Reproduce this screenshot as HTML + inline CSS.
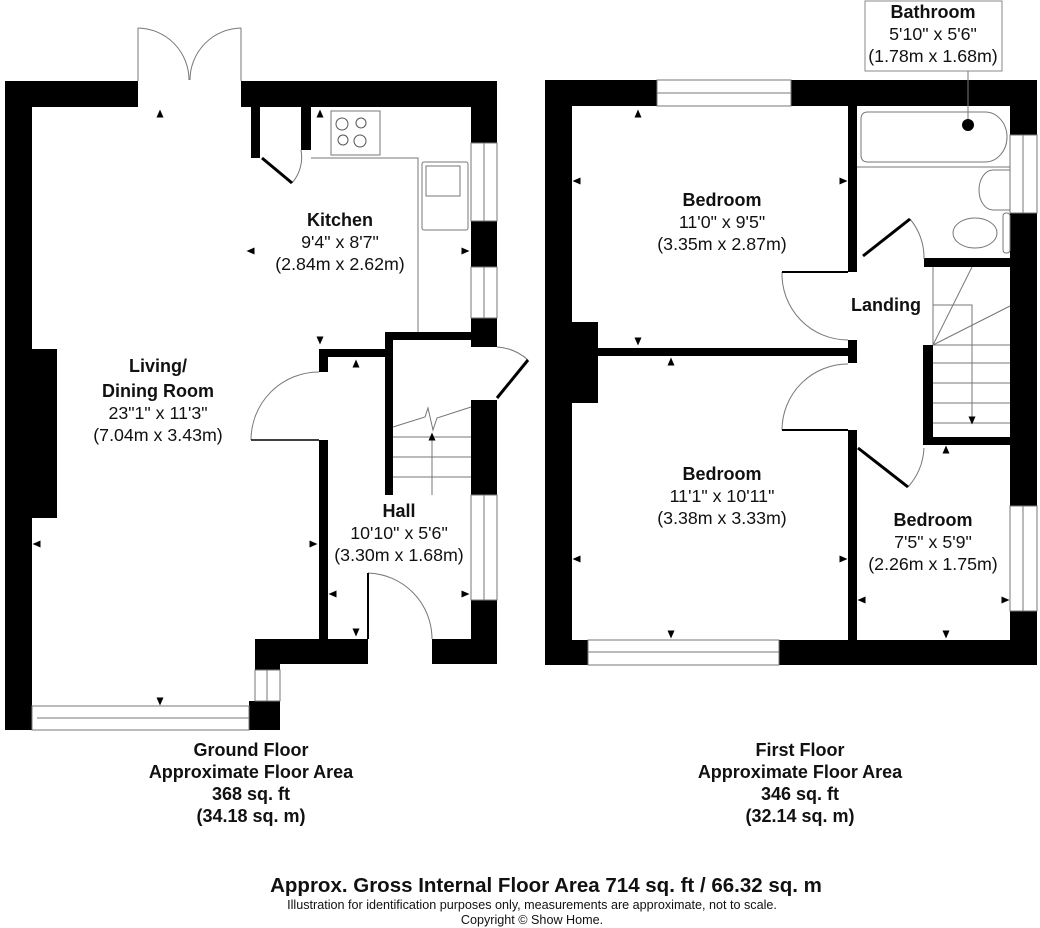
<!DOCTYPE html>
<html><head><meta charset="utf-8"><style>
html,body{margin:0;padding:0;background:#fff;}
svg{display:block;}
text{font-family:"Liberation Sans",Arial,sans-serif;fill:#111;text-anchor:middle;}
.b{font-weight:bold;font-size:18px;}
.r{font-size:17.8px;}
</style></head><body>
<svg width="1040" height="928" viewBox="0 0 1040 928" xmlns="http://www.w3.org/2000/svg">
<defs>
<path id="tu" d="M-3.5,3.5 L3.5,3.5 L0,-4.5 Z"/>
</defs>
<g fill="#000">
<rect x="5" y="81" width="133" height="26"/>
<rect x="241" y="81" width="256" height="26"/>
<rect x="5" y="81" width="27" height="649"/>
<rect x="32" y="349" width="25" height="169"/>
<rect x="471" y="81" width="26" height="62"/>
<rect x="471" y="221" width="26" height="46"/>
<rect x="471" y="318" width="26" height="29"/>
<rect x="471" y="400" width="26" height="95"/>
<rect x="471" y="600" width="26" height="64"/>
<rect x="432" y="639" width="65" height="25"/>
<rect x="255" y="639" width="113" height="25"/>
<rect x="255" y="664" width="25" height="6"/>
<rect x="249" y="701" width="31" height="29"/>
<rect x="319" y="440" width="9" height="199"/>
<rect x="319" y="349" width="9" height="23"/>
<rect x="319" y="349" width="66" height="8"/>
<rect x="385" y="332" width="8" height="163"/>
<rect x="385" y="332" width="86" height="8"/>
<rect x="251" y="107" width="9" height="51"/>
<rect x="301" y="107" width="10" height="43"/>
<rect x="545" y="80" width="112" height="26"/>
<rect x="791" y="80" width="246" height="26"/>
<rect x="545" y="80" width="27" height="585"/>
<rect x="572" y="322" width="26" height="81"/>
<rect x="1010" y="80" width="27" height="55"/>
<rect x="1010" y="213" width="27" height="293"/>
<rect x="1010" y="611" width="27" height="54"/>
<rect x="545" y="640" width="43" height="25"/>
<rect x="779" y="640" width="258" height="25"/>
<rect x="598" y="348" width="250" height="8"/>
<rect x="848" y="340" width="9" height="23"/>
<rect x="848" y="106" width="9" height="166"/>
<rect x="848" y="430" width="9" height="210"/>
<rect x="924" y="258" width="86" height="9"/>
<rect x="923" y="345" width="10" height="100"/>
<rect x="923" y="437" width="87" height="8"/>
</g>
<g fill="none" stroke="#777" stroke-width="1">
<rect x="471" y="143" width="26" height="78"/><line x1="484" y1="143" x2="484" y2="221"/>
<rect x="471" y="267" width="26" height="51"/><line x1="484" y1="267" x2="484" y2="318"/>
<rect x="471" y="495" width="26" height="105"/><line x1="484" y1="495" x2="484" y2="600"/>
<rect x="255" y="670" width="25" height="31"/><line x1="267" y1="670" x2="267" y2="701"/>
<rect x="32" y="706" width="217" height="24"/><line x1="37" y1="718" x2="249" y2="718"/>
<rect x="657" y="80" width="134" height="26"/><line x1="657" y1="93" x2="791" y2="93"/>
<rect x="1010" y="135" width="27" height="78"/><line x1="1023" y1="135" x2="1023" y2="213"/>
<rect x="1010" y="506" width="27" height="105"/><line x1="1023" y1="506" x2="1023" y2="611"/>
<rect x="588" y="640" width="191" height="25"/><line x1="588" y1="652" x2="779" y2="652"/>
<polyline points="311,158 418,158 418,332"/>
<rect x="331" y="111" width="49" height="44"/>
<rect x="422" y="162" width="46" height="68" rx="2"/>
<rect x="426" y="166" width="34" height="30"/>
<line x1="393" y1="437" x2="471" y2="437"/>
<line x1="393" y1="457" x2="471" y2="457"/>
<line x1="393" y1="477" x2="471" y2="477"/>
<polyline points="393,427 425,417 428,408 433,430 437,418 471,407"/>
<line x1="432" y1="437" x2="432" y2="495"/>
<line x1="933" y1="345" x2="1010" y2="345"/>
<line x1="933" y1="363" x2="1010" y2="363"/>
<line x1="933" y1="383" x2="1010" y2="383"/>
<line x1="933" y1="403" x2="1010" y2="403"/>
<line x1="933" y1="423" x2="1010" y2="423"/>
<line x1="933" y1="267" x2="933" y2="345"/>
<line x1="933" y1="345" x2="972" y2="267"/>
<line x1="933" y1="345" x2="1010" y2="306"/>
<polyline points="933,305 972,305 972,418"/>
<path d="M868,112 H985 A22,25 0 0 1 985,162 H868 Q861,162 861,155 V119 Q861,112 868,112 Z"/>
<line x1="857" y1="167" x2="1010" y2="167"/>
<path d="M1010,170 H993 A14,20 0 0 0 993,210 H1010"/>
<ellipse cx="975" cy="233" rx="22" ry="15"/>
<rect x="1003" y="213" width="7" height="40" rx="3"/>
<rect x="865" y="1" width="137" height="70" stroke="#888"/>
<line x1="968" y1="71" x2="968" y2="120"/>
<path d="M138,28 A52,52 0 0 1 189,80"/>
<path d="M241,28 A52,52 0 0 0 190,80"/>
<path d="M251,440 A68,68 0 0 1 319,372"/>
<path d="M368,573 A66,66 0 0 1 432,639"/>
<path d="M497,347 A51,51 0 0 1 528,360"/>
<path d="M292,183 A39,39 0 0 0 301,150"/>
<path d="M782,272 A66,66 0 0 0 848,340"/>
<path d="M782,430 A66,66 0 0 1 848,364"/>
<path d="M910,219 A60,60 0 0 1 924,259"/>
<path d="M908,487 A63,63 0 0 0 924,448"/>
</g>
<g stroke="#777" fill="none" stroke-width="1">
<line x1="138" y1="28" x2="138" y2="81"/>
<line x1="241" y1="28" x2="241" y2="81"/>
<line x1="251" y1="440" x2="319" y2="440" stroke="#000" stroke-width="1.5"/>
<line x1="368" y1="573" x2="368" y2="639" stroke="#000" stroke-width="2"/>
<line x1="782" y1="272" x2="848" y2="272" stroke="#000" stroke-width="2"/>
<line x1="782" y1="430" x2="848" y2="430" stroke="#000" stroke-width="2"/>
</g>
<g stroke="#000" stroke-width="3">
<line x1="262" y1="158" x2="292" y2="183"/>
<line x1="497" y1="398" x2="528" y2="360"/>
<line x1="863" y1="256" x2="910" y2="219"/>
<line x1="858" y1="448" x2="908" y2="487"/>
</g>
<g fill="#000">
<circle cx="968" cy="125" r="6"/>
<circle cx="342" cy="124" r="6" fill="none" stroke="#555"/><circle cx="361" cy="123" r="5" fill="none" stroke="#555"/>
<circle cx="343" cy="140" r="5" fill="none" stroke="#555"/><circle cx="360" cy="141" r="6" fill="none" stroke="#555"/>
<use href="#tu" x="160" y="114"/><use href="#tu" x="320" y="114"/>
<use href="#tu" x="356" y="364"/><use href="#tu" x="638" y="114"/>
<use href="#tu" x="671" y="362"/><use href="#tu" x="946" y="450"/>
<use href="#tu" transform="translate(160,701) rotate(180)"/>
<use href="#tu" transform="translate(320,340) rotate(180)"/>
<use href="#tu" transform="translate(356,632) rotate(180)"/>
<use href="#tu" transform="translate(638,341) rotate(180)"/>
<use href="#tu" transform="translate(671,634) rotate(180)"/>
<use href="#tu" transform="translate(946,634) rotate(180)"/>
<use href="#tu" transform="translate(972,420) rotate(180)"/>
<use href="#tu" transform="translate(432,437)"/>
<use href="#tu" transform="translate(37,544) rotate(-90)"/>
<use href="#tu" transform="translate(313,544) rotate(90)"/>
<use href="#tu" transform="translate(251,251) rotate(-90)"/>
<use href="#tu" transform="translate(465,251) rotate(90)"/>
<use href="#tu" transform="translate(333,594) rotate(-90)"/>
<use href="#tu" transform="translate(465,594) rotate(90)"/>
<use href="#tu" transform="translate(577,181) rotate(-90)"/>
<use href="#tu" transform="translate(843,181) rotate(90)"/>
<use href="#tu" transform="translate(577,559) rotate(-90)"/>
<use href="#tu" transform="translate(843,559) rotate(90)"/>
<use href="#tu" transform="translate(862,600) rotate(-90)"/>
<use href="#tu" transform="translate(1005,600) rotate(90)"/>
</g>
<text class="b" x="340" y="226">Kitchen</text>
<text class="r" x="340" y="248">9'4" x 8'7"</text>
<text class="r" x="340" y="270">(2.84m x 2.62m)</text>
<text class="b" x="158" y="372">Living/</text>
<text class="b" x="158" y="397">Dining Room</text>
<text class="r" x="158" y="419">23"1" x 11'3"</text>
<text class="r" x="158" y="441">(7.04m x 3.43m)</text>
<text class="b" x="399" y="517">Hall</text>
<text class="r" x="399" y="539">10'10" x 5'6"</text>
<text class="r" x="399" y="561">(3.30m x 1.68m)</text>
<text class="b" x="722" y="206">Bedroom</text>
<text class="r" x="722" y="228">11'0" x 9'5"</text>
<text class="r" x="722" y="250">(3.35m x 2.87m)</text>
<text class="b" x="886" y="311">Landing</text>
<text class="b" x="722" y="480">Bedroom</text>
<text class="r" x="722" y="502">11'1" x 10'11"</text>
<text class="r" x="722" y="524">(3.38m x 3.33m)</text>
<text class="b" x="933" y="526">Bedroom</text>
<text class="r" x="933" y="548">7'5" x 5'9"</text>
<text class="r" x="933" y="570">(2.26m x 1.75m)</text>
<text class="b" x="933" y="18">Bathroom</text>
<text class="r" x="933" y="40">5'10" x 5'6"</text>
<text class="r" x="933" y="62">(1.78m x 1.68m)</text>
<text class="b" x="251" y="756">Ground Floor</text>
<text class="b" x="251" y="778">Approximate Floor Area</text>
<text class="b" x="251" y="800">368 sq. ft</text>
<text class="b" x="251" y="822">(34.18 sq. m)</text>
<text class="b" x="800" y="756">First Floor</text>
<text class="b" x="800" y="778">Approximate Floor Area</text>
<text class="b" x="800" y="800">346 sq. ft</text>
<text class="b" x="800" y="822">(32.14 sq. m)</text>
<text class="b" x="546" y="892" style="font-size:20.5px">Approx. Gross Internal Floor Area 714 sq. ft / 66.32 sq. m</text>
<text x="532" y="909" style="font-size:12.6px">Illustration for identification purposes only, measurements are approximate, not to scale.</text>
<text x="532" y="924" style="font-size:12.6px">Copyright © Show Home.</text>
</svg>
</body></html>
